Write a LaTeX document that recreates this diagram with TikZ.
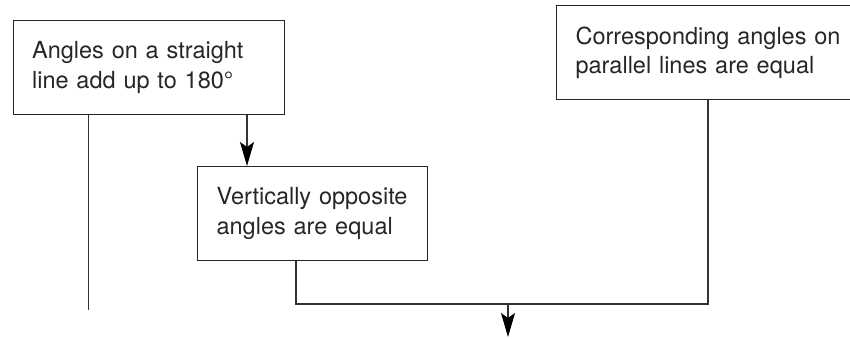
\documentclass[tikz,border=0pt]{standalone}
\usepackage{fontspec}
\setmainfont{TeX Gyre Heros}
\usetikzlibrary{arrows.meta}

\begin{document}
\begin{tikzpicture}[x=1pt,y=-1pt]
	 \tikzstyle{fact}=[draw,line width=1.2pt,black!85,text=black!85,rectangle,anchor=north west,
		inner xsep=19pt,inner ysep=0pt,minimum height=94pt,align=left,
		font=\fontsize{23.5}{29.5}\selectfont]
	 \tikzstyle{edge} = [-,black!80,line width=1.3pt]
	 \tikzstyle{arrow edge} = [edge,-{Stealth[length=24pt,width=14pt,inset=5pt,black]}]

	 \clip (0,0) rectangle (850,338);

	 \node[fact,text width=233pt] (s1) at (12.5,20) {Angles on a straight\\line add up to 180°};
	\node[fact,text width=192pt] (s2) at (197,166) {Vertically opposite\\angles are equal};
	\node[fact,text width=300pt] (s3) at (556,5) {Corresponding angles on\\parallel lines are equal};

	 \coordinate (e1) at (88.5,310);
	 \coordinate (j) at (508,304);
	 \coordinate (out) at (508,337);

	 \draw[edge] (e1 |- s1.south) -- (e1);
	 \draw[arrow edge] ([xshift=50pt]s2.north west |- s1.south) -- ([xshift=50pt]s2.north west);
	 \draw[edge] ([xshift=99pt]s2.south west) |- (j) -| ([xshift=152pt]s3.south west);
	 \draw[arrow edge] (j) -- (out);
\end{tikzpicture}
\end{document}
